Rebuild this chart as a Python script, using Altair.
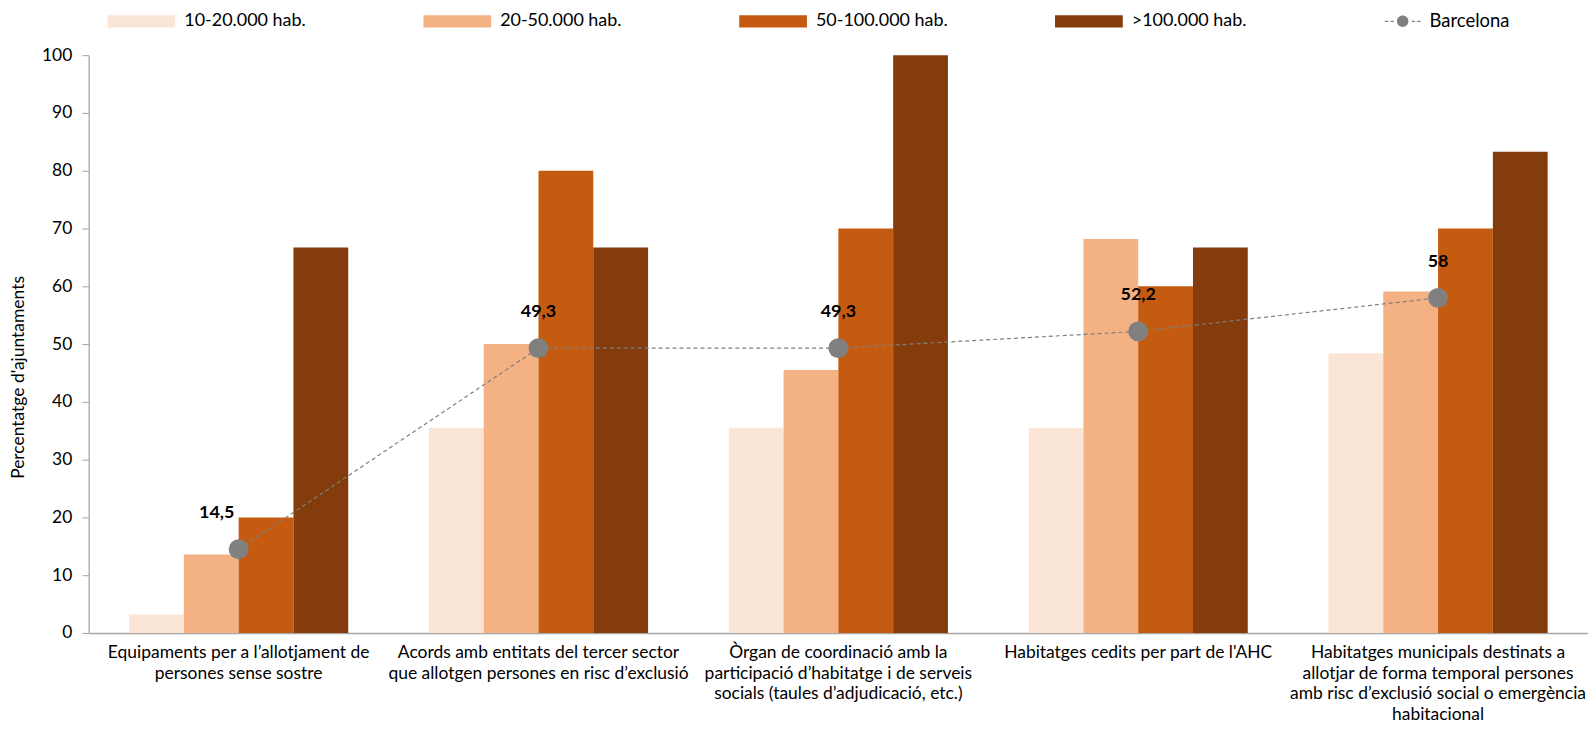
import altair as alt
import pandas as pd

categories = [
    "Equipaments per a l’allotjament de|persones sense sostre",
    "Acords amb entitats del tercer sector|que allotgen persones en risc d’exclusió",
    "Òrgan de coordinació amb la|participació d’habitatge i de serveis|socials (taules d’adjudicació, etc.)",
    "Habitatges cedits per part de l'AHC",
    "Habitatges municipals destinats a|allotjar de forma temporal persones|amb risc d’exclusió social o emergència|habitacional",
]
groups = ["10-20.000 hab.", "20-50.000 hab.", "50-100.000 hab.", ">100.000 hab."]
v_10_20 = [3.2, 35.5, 35.5, 35.5, 48.4]
v_20_50 = [13.6, 50.0, 45.5, 68.2, 59.1]
v_50_100 = [20.0, 80.0, 70.0, 60.0, 70.0]
v_100 = [66.7, 66.7, 100.0, 66.7, 83.3]
barcelona = [14.5, 49.3, 49.3, 52.2, 58.0]
barcelona_labels = ["14,5", "49,3", "49,3", "52,2", "58"]
colors = ["#FBE5D6", "#F4B183", "#C55A11", "#843C0C"]

FONT = "Lato"

rows = []
for g, vals in zip(groups, [v_10_20, v_20_50, v_50_100, v_100]):
    for c, v in zip(categories, vals):
        rows.append({"cat": c, "grup": g, "valor": v})
bars_df = pd.DataFrame(rows)

bcn_df = pd.DataFrame({
    "cat": categories,
    "valor": barcelona,
    "label": barcelona_labels,
    "i": list(range(len(categories))),
    "serie": ["Barcelona"] * len(categories),
})

x_enc = alt.X(
    "cat:N",
    sort=categories,
    scale=alt.Scale(paddingInner=0.2691, paddingOuter=0.1346),
    axis=alt.Axis(
        title=None,
        labelAngle=0,
        labelExpr="split(datum.label, '|')",
        labelLineHeight=20.5,
        labelPadding=11,
        labelFontSize=17.5,
        labelLimit=400,
        labelBaseline="top",
        ticks=False,
        domainColor="#A6A6A6",
        domainWidth=1.3,
    ),
)
y_scale = alt.Scale(domain=[0, 100], nice=False)
y_axis = alt.Axis(
    title="Percentatge d'ajuntaments",
    values=list(range(0, 101, 10)),
    grid=False,
    tickSize=7,
    tickColor="#A6A6A6",
    domainColor="#A6A6A6",
    domainWidth=1.3,
    labelPadding=10,
    labelFontSize=17.5,
    titleFontSize=17.5,
    titleFontWeight="normal",
    titleX=-70,
    titleY=323,
    titleAngle=270,
    titleBaseline="middle",
    titleAlign="center",
)

BAR_SYMBOL = "M-1,-0.18H1V0.18H-1Z"
BCN_SYMBOL = (
    "M-1,-0.035H-0.8V0.035H-1Z M-0.68,-0.035H-0.5V0.035H-0.68Z "
    "M0.5,-0.035H0.68V0.035H0.5Z M0.8,-0.035H1V0.035H0.8Z "
    "M0.32,0A0.32,0.32 0 1,1 -0.32,0A0.32,0.32 0 1,1 0.32,0Z"
)

bars = alt.Chart(bars_df).mark_bar().encode(
    x=x_enc,
    xOffset=alt.XOffset("grup:N", sort=groups, scale=alt.Scale(paddingInner=0, paddingOuter=0)),
    y=alt.Y("valor:Q", scale=y_scale, axis=y_axis),
    color=alt.Color(
        "grup:N",
        sort=groups,
        scale=alt.Scale(domain=groups, range=colors),
        legend=alt.Legend(
            title=None,
            orient="none",
            legendX=19,
            legendY=-68,
            direction="horizontal",
            columns=4,
            gridAlign="all",
            columnPadding=107,
            symbolType=BAR_SYMBOL,
            symbolSize=4624,
            symbolStrokeWidth=0,
            labelFontSize=18,
            labelOffset=9,
            labelLimit=300,
        ),
    ),
)

line = alt.Chart(bcn_df).mark_line(
    color="#7F7F7F", strokeDash=[4, 3], strokeWidth=1.2
).encode(
    x=alt.X("cat:N", sort=categories),
    y=alt.Y("valor:Q", scale=y_scale),
)

points = alt.Chart(bcn_df).mark_circle(size=400, color="#808080").encode(
    x=alt.X("cat:N", sort=categories),
    y=alt.Y("valor:Q", scale=y_scale),
    opacity=alt.Opacity(
        "serie:O",
        scale=alt.Scale(domain=["Barcelona"], range=[1]),
        legend=alt.Legend(
            title=None,
            orient="none",
            legendX=1301,
            legendY=-52,
            symbolType=BCN_SYMBOL,
            symbolSize=1296,
            symbolFillColor="#808080",
            symbolStrokeWidth=0,
            symbolOpacity=1,
            labelFontSize=18.5,
            labelOffset=9,
        ),
    ),
)

text_first = alt.Chart(bcn_df).transform_filter("datum.i == 0").mark_text(
    fontWeight="bold", fontSize=18, dy=-36, dx=-22, color="#000000"
).encode(
    x=alt.X("cat:N", sort=categories),
    y=alt.Y("valor:Q", scale=y_scale),
    text="label:N",
)
text_rest = alt.Chart(bcn_df).transform_filter("datum.i > 0").mark_text(
    fontWeight="bold", fontSize=18, dy=-36, color="#000000"
).encode(
    x=alt.X("cat:N", sort=categories),
    y=alt.Y("valor:Q", scale=y_scale),
    text="label:N",
)

chart = alt.layer(bars, line, points, text_first, text_rest).properties(
    width=1505,
    height=580,
    autosize=alt.AutoSizeParams(type="none"),
    padding={"left": 81, "top": 46, "right": 0, "bottom": 93},
).configure_view(stroke=None).configure_axis(
    labelFont=FONT, titleFont=FONT, labelColor="#000000", titleColor="#000000"
).configure_legend(
    labelFont=FONT, labelColor="#000000"
).configure_text(font=FONT)

chart.save("out.html", embed_options={"renderer": "svg", "actions": False})
